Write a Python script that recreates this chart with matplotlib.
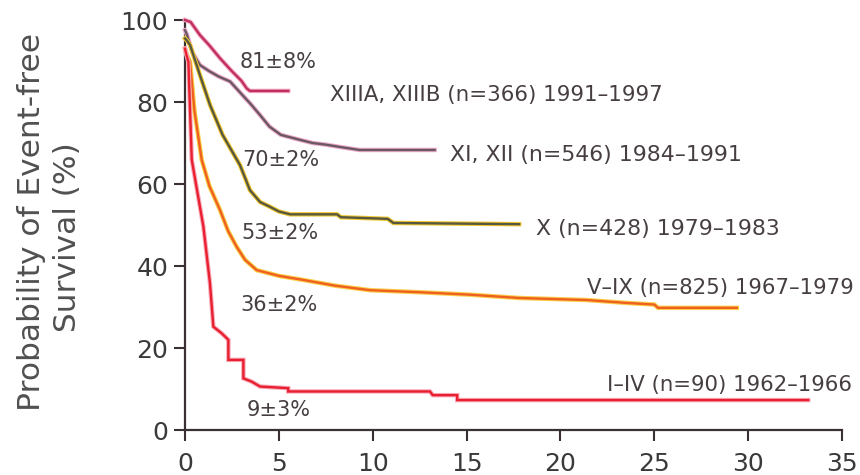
import matplotlib
matplotlib.use("Agg")
import matplotlib.pyplot as plt
import matplotlib.patheffects as pe

plt.rcParams['font.family'] = ['DejaVu Sans']

# ---- data: curve vertices (years, % event-free survival) ----
t_xiii = [0, 0.3, 0.8, 1.3, 1.86, 2.5, 3.0, 3.29, 3.46, 5.5]
s_xiii = [100, 99.5, 96.3, 93.8, 90.7, 87.5, 85.2, 83.3, 82.7, 82.7]

t_xi = [0, 0.1, 0.4, 0.8, 1.3, 1.8, 2.4, 3.0, 3.5, 4.0, 4.5, 5.1, 6.1, 6.8, 7.5, 8.3, 9.3, 13.3]
s_xi = [97.5, 96.5, 92, 89, 87.5, 86.2, 85, 82, 79.5, 76.8, 74, 72, 70.8, 70, 69.6, 69, 68.3, 68.3]

t_x = [0, 0.1, 0.27, 0.8, 1.33, 2.0, 2.93, 3.46, 4.0, 4.5, 5.0, 5.6, 8.1, 8.3, 10.8, 11.1, 17.8]
s_x = [95.5, 95, 93.9, 86.5, 79.3, 72, 64.6, 58.5, 55.6, 54.5, 53.3, 52.6, 52.6, 51.9, 51.5, 50.5, 50.2]

t_v = [0, 0.1, 0.27, 0.5, 0.89, 1.3, 1.86, 2.3, 2.75, 3.2, 3.82, 5.0, 6.3, 8.0, 9.86, 12.5, 15.2, 17.8, 21.4, 23.5, 25.0, 25.2, 29.4]
s_v = [93, 91.5, 89.8, 78, 65.9, 59.5, 53.7, 48.5, 44.7, 41.5, 39, 37.6, 36.6, 35.2, 34.1, 33.6, 33.0, 32.2, 31.7, 31.0, 30.6, 29.8, 29.8]

t_i = [0, 0.05, 0.18, 0.36, 0.98, 1.33, 1.51, 1.95, 2.31, 2.31, 3.11, 3.11, 3.55, 4.0, 5.5, 5.5, 13.05, 13.2, 14.5, 14.5, 33.2]
s_i = [93, 92, 89.8, 65.9, 49.6, 35.8, 25.2, 23.6, 22.0, 17.1, 17.1, 12.6, 11.8, 10.6, 10.2, 9.4, 9.4, 8.5, 8.5, 7.3, 7.3]

pct_labels = ["81\u00b18%", "70\u00b12%", "53\u00b12%", "36\u00b12%", "9\u00b13%"]
grp_labels = ["XIIIA, XIIIB (n=366) 1991\u20131997",
              "XI, XII (n=546) 1984\u20131991",
              "X (n=428) 1979\u20131983",
              "V\u2013IX (n=825) 1967\u20131979",
              "I\u2013IV (n=90) 1962\u20131966"]

x_ticks = [0, 5, 10, 15, 20, 25, 30, 35]
y_ticks = [0, 20, 40, 60, 80, 100]

fig = plt.figure(figsize=(8.6, 4.75), dpi=100)
ax = fig.add_axes([185/860, 45/475, 657/860, 410/475])

curves = [
    (t_xiii, s_xiii, '#c0305a', '#f4a8c8'),
    (t_xi, s_xi, '#6a5862', '#eeaacc'),
    (t_x, s_x, '#585840', '#f0c830'),
    (t_v, s_v, '#f06020', '#f8d048'),
    (t_i, s_i, '#e82030', '#f8a8b8'),
]
for t, s, core, edge in curves:
    ax.plot(t, s, color=core, lw=1.7, clip_on=False, zorder=3,
            solid_joinstyle='miter',
            path_effects=[pe.Stroke(linewidth=3.2, foreground=edge), pe.Normal()])

txt_color = '#463e40'
pct_pos = [(2.93, 89.8), (3.04, 65.9), (2.98, 48), (2.93, 30.5), (3.3, 4.9)]
grp_pos = [(7.75, 81.7), (14.1, 67), (18.7, 49), (21.4, 34.6), (22.5, 11)]
grp_size = [15.4, 15.8, 15.8, 15.3, 15.3]
for lab, (x, y) in zip(pct_labels, pct_pos):
    ax.text(x, y, lab, fontsize=15, color=txt_color, va='center', ha='left')
for lab, (x, y), fs in zip(grp_labels, grp_pos, grp_size):
    ax.text(x, y, lab, fontsize=fs, color=txt_color, va='center', ha='left', clip_on=False)

ax.set_xlim(0, 35)
ax.set_ylim(0, 100)
ax.set_xticks(x_ticks)
ax.set_yticks(y_ticks)
for sp in ['top', 'right']:
    ax.spines[sp].set_visible(False)
for sp in ['left', 'bottom']:
    ax.spines[sp].set_color('#3a3034')
    ax.spines[sp].set_linewidth(1.6)
ax.tick_params(direction='out', length=8, width=1.5, colors='#3a3034',
               labelsize=18, labelcolor='#3a3a3a', pad=4)
ax.tick_params(axis='x', pad=8)

# two-line y-axis title
ylab_color = '#505050'
fig.text(32/860, 1 - 222/475, "Probability of Event-free", rotation=90,
         fontsize=22.5, color=ylab_color, ha='center', va='center')
fig.text(67/860, 1 - 237/475, "Survival (%)", rotation=90,
         fontsize=22.5, color=ylab_color, ha='center', va='center')

fig.savefig("out.png", dpi=100)
